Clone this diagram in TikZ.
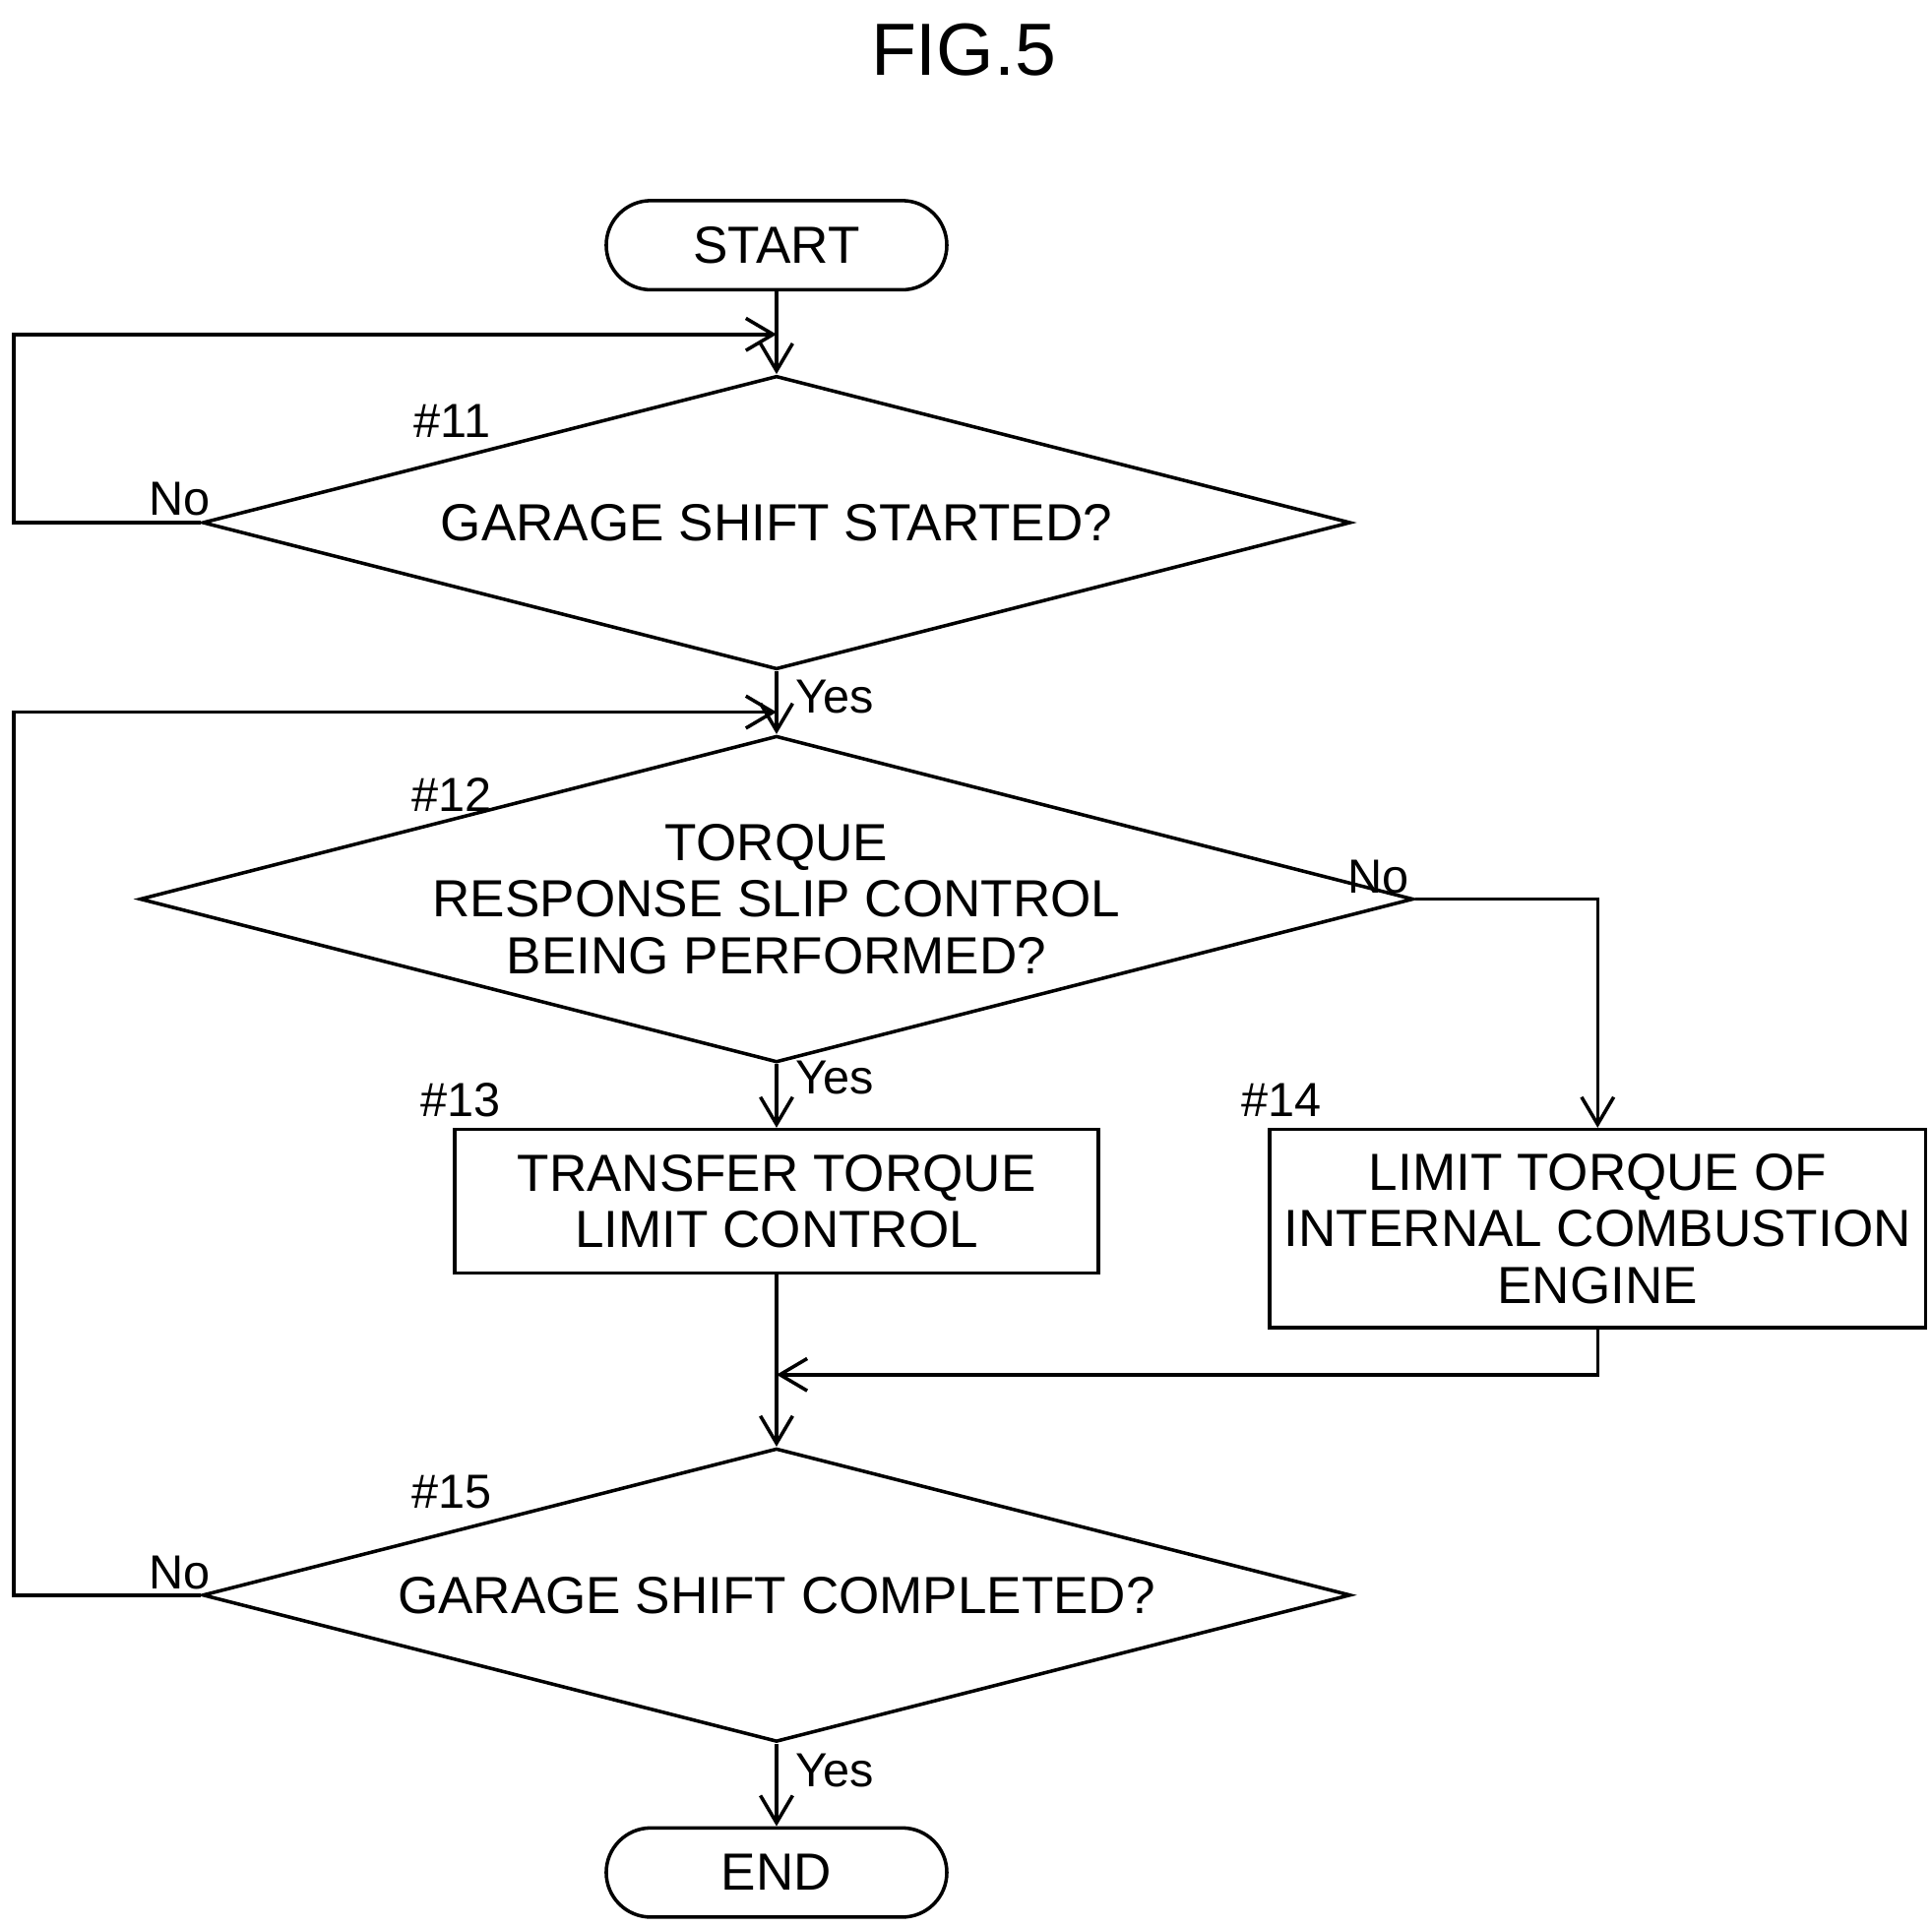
\documentclass[tikz,border=0pt]{standalone}
\usepackage{fontspec}
\setmainfont{Liberation Sans}
\usetikzlibrary{shapes.geometric, arrows.meta, positioning}
\tikzset{
    terminal/.style={
        rectangle,
        rounded corners=0.36cm,
        draw=black,
        thick,
        minimum width=2.75cm,
        minimum height=0.72cm,
        font=\fontsize{12}{14}\selectfont
    },
    decision/.style={
        diamond,
        draw=black,
        thick,
        aspect=3.9,
        inner sep=0pt,
        minimum width=9.27cm,
        minimum height=2.37cm,
        align=center,
        font=\fontsize{12}{13}\selectfont
    },
    process/.style={
        rectangle,
        draw=black,
        thick,
        minimum width=5.2cm,
        minimum height=1.16cm,
        align=center,
        font=\fontsize{12}{13}\selectfont
    },
    flow/.style={
        draw=black,
        thick,
        -{Straight Barb[length=2.2mm,width=2.6mm]}
    },
    steplabel/.style={
        font=\fontsize{11}{13}\selectfont
    },
    answer/.style={
        font=\fontsize{11}{13}\selectfont
    }
}
\begin{document}
\begin{tikzpicture}
\useasboundingbox (0,0) rectangle (15.6,-15.56);

% Title
\node[font=\fontsize{17}{20}\selectfont] (title) at (7.78,-0.4) {FIG.5};

% Start
\node[terminal] (start) at (6.27,-1.98) {START};

% Step 11
\node[decision] (d11) at (6.27,-4.22) {GARAGE SHIFT STARTED?};
\node[steplabel] (n11) at (3.65,-3.4) {\#11};

% Step 12
\node[decision] (d12) at (6.27,-7.26) {TORQUE\\RESPONSE SLIP CONTROL\\BEING PERFORMED?};
\node[steplabel] (n12) at (3.65,-6.42) {\#12};

% Steps 13 and 14
\node[process] (p13) at (6.27,-9.7) {TRANSFER TORQUE\\LIMIT CONTROL};
\node[steplabel] (n13) at (3.72,-8.88) {\#13};
\node[process, minimum height=1.6cm] (p14) at (12.9,-9.92) {LIMIT TORQUE OF\\INTERNAL COMBUSTION\\ENGINE};
\node[steplabel] (n14) at (10.35,-8.88) {\#14};

% Step 15
\node[decision] (d15) at (6.27,-12.88) {GARAGE SHIFT COMPLETED?};
\node[steplabel] (n15) at (3.65,-12.05) {\#15};

% End
\node[terminal] (end) at (6.27,-15.12) {END};

% Junctions
\coordinate (j11) at (6.27,-2.7);
\coordinate (j12) at (6.27,-5.75);
\coordinate (j15) at (6.27,-11.1);

% Connectors
\draw[thick] (start) -- (j11);
\draw[flow] (j11) -- (d11.north);
\draw[flow] (d11.west) -- ++(-1.51,0) |- (j11);
\node[answer] (no11) at (1.45,-4.03) {No};

\draw[thick] (d11.south) -- (j12);
\draw[flow] (j12) -- (d12.north);
\node[answer, anchor=west] (yes11) at (6.3,-5.63) {Yes};
\draw[flow] (d15.west) -- ++(-1.51,0) |- (j12);
\node[answer] (no15) at (1.45,-12.7) {No};

\draw[flow] (d12.south) -- (p13.north);
\node[answer, anchor=west] (yes12) at (6.3,-8.7) {Yes};
\draw[flow] (d12.east) -| (p14.north);
\node[answer] (no12) at (11.13,-7.08) {No};

\draw[thick] (p13.south) -- (j15);
\draw[flow] (j15) -- (d15.north);
\draw[flow] (p14.south) |- (j15);

\draw[flow] (d15.south) -- (end.north);
\node[answer, anchor=west] (yes15) at (6.3,-14.3) {Yes};

\end{tikzpicture}
\end{document}
